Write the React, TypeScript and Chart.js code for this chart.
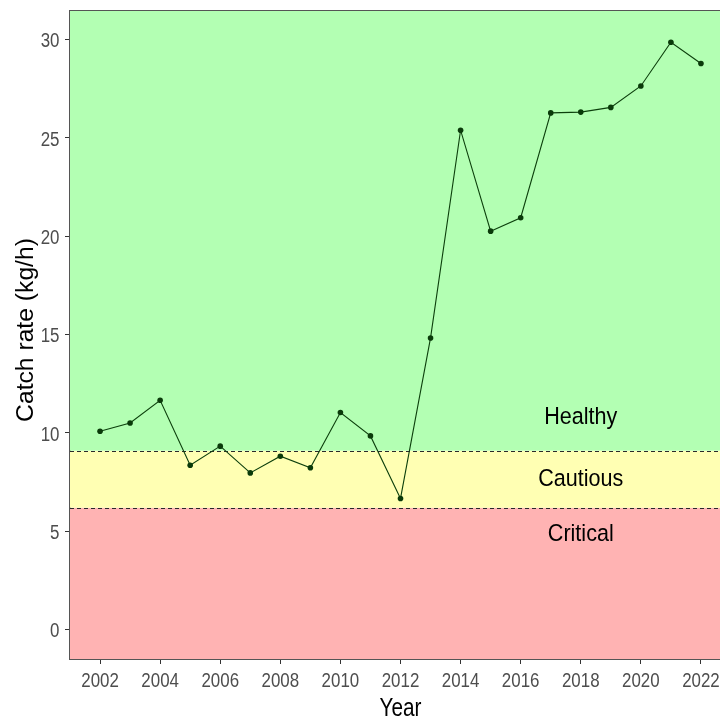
import React, { useEffect, useRef } from "react";
import { Chart, registerables } from "chart.js";

Chart.register(...registerables);

const years = [2002, 2003, 2004, 2005, 2006, 2007, 2008, 2009, 2010, 2011, 2012, 2013, 2014, 2015, 2016, 2017, 2018, 2019, 2020, 2021, 2022];
const catchRate = [10.09, 10.51, 11.66, 8.36, 9.33, 7.97, 8.82, 8.23, 11.04, 9.85, 6.67, 14.83, 25.39, 20.26, 20.94, 26.27, 26.31, 26.55, 27.64, 29.86, 28.78];

const xTicks = [2002, 2004, 2006, 2008, 2010, 2012, 2014, 2016, 2018, 2020, 2022];
const yTicks = [0, 5, 10, 15, 20, 25, 30];

const xTitle = "Year";
const yTitle = "Catch rate (kg/h)";

const zoneNames = ["Critical", "Cautious", "Healthy"];
const zoneLower = [-Infinity, 6.2, 9.1];
const zoneUpper = [6.2, 9.1, Infinity];
const zoneColors = ["#ffb3b3", "#ffffb3", "#b3ffb3"];
const thresholds = [6.2, 9.1];
const zoneLabelYear = 2018;
const zoneLabelValues = [4.94, 7.74, 10.92];

const SANS = "'Liberation Sans', Arial, sans-serif";

function drawNarrow(ctx: any, text: string, x: number, y: number, size: number, sx: number, align: string) {
  ctx.save();
  ctx.font = `${size}px ${SANS}`;
  ctx.textAlign = align;
  ctx.textBaseline = "alphabetic";
  ctx.translate(x, y);
  ctx.scale(sx, 1);
  ctx.fillText(text, 0, 0);
  ctx.restore();
}

const zonesPlugin = {
  id: "zones",
  beforeDatasetsDraw(chart: any) {
    const { ctx, chartArea, scales } = chart;
    const y = scales.y;
    const x = scales.x;
    ctx.save();
    ctx.beginPath();
    ctx.rect(chartArea.left, chartArea.top, chartArea.right - chartArea.left, chartArea.bottom - chartArea.top);
    ctx.clip();
    for (let i = 0; i < zoneNames.length; i++) {
      const lo = Math.max(zoneLower[i], y.min);
      const hi = Math.min(zoneUpper[i], y.max);
      const yTop = y.getPixelForValue(hi);
      const yBot = y.getPixelForValue(lo);
      ctx.fillStyle = zoneColors[i];
      ctx.fillRect(chartArea.left, yTop, chartArea.right - chartArea.left, yBot - yTop);
    }
    ctx.strokeStyle = "#2a2a2a";
    ctx.lineWidth = 1;
    ctx.setLineDash([4, 3]);
    for (const t of thresholds) {
      const py = Math.round(y.getPixelForValue(t)) + 0.5;
      ctx.beginPath();
      ctx.moveTo(chartArea.left, py);
      ctx.lineTo(chartArea.right, py);
      ctx.stroke();
    }
    ctx.setLineDash([]);
    ctx.fillStyle = "#000000";
    const zs = 24.5;
    for (let i = 0; i < zoneNames.length; i++) {
      drawNarrow(ctx, zoneNames[i], x.getPixelForValue(zoneLabelYear), y.getPixelForValue(zoneLabelValues[i]) + zs * 0.358, zs, 0.88, "center");
    }
    ctx.restore();
  },
  afterDraw(chart: any) {
    const { ctx, chartArea, scales } = chart;
    const x = scales.x;
    const y = scales.y;
    ctx.save();
    ctx.strokeStyle = "#555555";
    ctx.lineWidth = 1;
    ctx.strokeRect(
      Math.round(chartArea.left) - 0.5,
      Math.round(chartArea.top) - 0.5,
      Math.round(chartArea.right - chartArea.left) + 1,
      Math.round(chartArea.bottom - chartArea.top) + 1
    );
    // tick labels
    ctx.fillStyle = "#4d4d4d";
    const ts = 20.5;
    for (const v of xTicks) {
      drawNarrow(ctx, String(v), x.getPixelForValue(v), chartArea.bottom + 28.3, ts, 0.825, "center");
    }
    for (const v of yTicks) {
      drawNarrow(ctx, String(v), chartArea.left - 10.5, y.getPixelForValue(v) + 7.8, ts, 0.825, "right");
    }
    // axis titles
    ctx.fillStyle = "#000000";
    drawNarrow(ctx, xTitle, (chartArea.left + chartArea.right) / 2, chartArea.bottom + 57.3, 25, 0.83, "center");
    ctx.save();
    ctx.font = `24.7px ${SANS}`;
    ctx.textAlign = "center";
    ctx.textBaseline = "alphabetic";
    ctx.translate(chartArea.left - 37, (chartArea.top + chartArea.bottom) / 2 - 5);
    ctx.rotate(-Math.PI / 2);
    ctx.fillText(yTitle, 0, 0);
    ctx.restore();
    ctx.restore();
  },
};

export default function App() {
  const canvasRef = useRef<HTMLCanvasElement | null>(null);

  useEffect(() => {
    if (!canvasRef.current) return;
    const chart = new Chart(canvasRef.current, {
      type: "line",
      data: {
        datasets: [
          {
            data: years.map((yr, i) => ({ x: yr, y: catchRate[i] })),
            borderColor: "#0c3f0c",
            backgroundColor: "#0a3a0a",
            borderWidth: 1.1,
            pointRadius: 2.8,
            pointBorderWidth: 0,
            tension: 0,
          },
        ],
      },
      options: {
        responsive: false,
        animation: false,
        layout: { padding: { top: 11, right: 10, left: 0, bottom: 0 } },
        plugins: {
          legend: { display: false },
          tooltip: { enabled: false },
        },
        scales: {
          x: {
            type: "linear",
            min: 2001,
            max: 2023,
            afterBuildTicks: (s: any) => {
              s.ticks = xTicks.map((v) => ({ value: v }));
            },
            afterFit: (s: any) => {
              s.height = 60;
            },
            ticks: { display: false, autoSkip: false },
            grid: { display: true, drawOnChartArea: false, drawTicks: true, tickLength: 5, color: "#333333", lineWidth: 1 },
            border: { display: true, color: "#555555", width: 1 },
            title: { display: false },
          },
          y: {
            type: "linear",
            min: -1.49,
            max: 31.45,
            afterBuildTicks: (s: any) => {
              s.ticks = yTicks.map((v) => ({ value: v }));
            },
            afterFit: (s: any) => {
              s.width = 70;
            },
            ticks: { display: false, autoSkip: false },
            grid: { display: true, drawOnChartArea: false, drawTicks: true, tickLength: 5, color: "#333333", lineWidth: 1 },
            border: { display: true, color: "#555555", width: 1 },
            title: { display: false },
          },
        },
      },
      plugins: [zonesPlugin],
    } as any);
    return () => chart.destroy();
  }, []);

  return (
    <div style={{ position: "absolute", left: 0, top: 0, width: 720, height: 719, overflow: "hidden", background: "#ffffff" }}>
      <canvas ref={canvasRef} width={741} height={719} style={{ display: "block" }} />
    </div>
  );
}
